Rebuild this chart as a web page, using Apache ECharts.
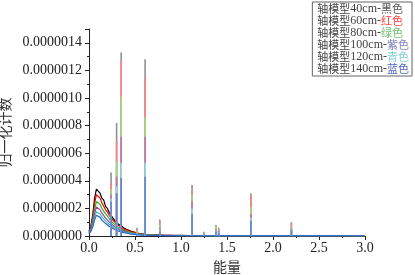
<!DOCTYPE html>
<html><head><meta charset="utf-8">
<script src="https://cdn.jsdelivr.net/npm/echarts@6/dist/echarts.min.js"></script>
<style>html,body{margin:0;padding:0;background:#fff}#c{width:415px;height:275px}</style>
</head><body><div id="c"></div>
<script>
// Units of values: 1e-7 (normalized counts)
const energies = [0.00,0.02,0.04,0.06,0.08,0.10,0.12,0.14,0.16,0.18,0.20,0.22,0.24,0.26,0.28,0.30,0.32,0.34,0.36,0.38,0.40,0.42,0.44,0.46,0.48,0.50,0.52,0.54,0.56,0.58,0.60,0.62,0.64,0.66,0.68,0.70,
  0.75,0.80,0.90,1.00,1.10,1.20,1.40,1.60,1.80,2.00,2.30,2.60,3.00];
const black40  = [0.35,0.7,1.5,2.7,3.4,3.3,3.1,2.75,2.6,2.15,2.0,1.7,1.6,1.3,1.2,0.95,1.0,0.78,0.8,0.58,0.6,0.44,0.46,0.34,0.36,0.27,0.28,0.2,0.22,0.15,0.17,0.12,0.13,0.1,0.11,0.08,
  0.08,0.06,0.05,0.04,0.03,0.03,0.02,0.02,0.01,0.01,0.01,0.005,0];
const red60    = [0.3,0.6,1.3,2.3,3.0,2.9,2.75,2.4,2.3,1.9,1.75,1.5,1.4,1.15,1.05,0.85,0.88,0.68,0.7,0.5,0.52,0.39,0.4,0.3,0.31,0.24,0.25,0.18,0.19,0.14,0.15,0.11,0.12,0.09,0.1,0.07,
  0.07,0.05,0.04,0.035,0.03,0.025,0.02,0.015,0.01,0.01,0.008,0.004,0];
const green80  = [0.25,0.5,1.1,1.9,2.5,2.4,2.3,2.0,1.9,1.6,1.45,1.25,1.15,0.95,0.87,0.7,0.73,0.56,0.58,0.42,0.44,0.32,0.34,0.25,0.26,0.2,0.21,0.15,0.16,0.12,0.13,0.09,0.1,0.075,0.08,0.06,
  0.055,0.045,0.035,0.03,0.025,0.02,0.015,0.012,0.008,0.008,0.006,0.003,0];
const purple100= [0.2,0.45,0.9,1.6,2.1,2.0,1.9,1.65,1.55,1.3,1.2,1.02,0.95,0.78,0.72,0.58,0.6,0.46,0.48,0.35,0.36,0.26,0.28,0.2,0.22,0.16,0.17,0.12,0.13,0.1,0.1,0.08,0.085,0.06,0.065,0.05,
  0.045,0.036,0.03,0.025,0.02,0.018,0.012,0.01,0.007,0.006,0.005,0.003,0];
const cyan120  = [0.18,0.4,0.75,1.35,1.75,1.7,1.6,1.38,1.3,1.08,1.0,0.85,0.8,0.65,0.6,0.48,0.5,0.38,0.4,0.29,0.3,0.22,0.23,0.17,0.18,0.13,0.14,0.1,0.11,0.08,0.085,0.065,0.07,0.05,0.055,0.042,
  0.04,0.03,0.025,0.02,0.017,0.015,0.01,0.008,0.006,0.005,0.004,0.002,0];
const blue140  = [0.15,0.33,0.65,1.15,1.5,1.42,1.35,1.15,1.1,0.9,0.84,0.71,0.67,0.55,0.5,0.4,0.42,0.32,0.34,0.24,0.25,0.18,0.19,0.14,0.15,0.11,0.12,0.085,0.09,0.065,0.07,0.055,0.058,0.042,0.046,0.035,
  0.034,0.025,0.021,0.017,0.014,0.012,0.008,0.007,0.005,0.004,0.003,0.002,0];

const peakEnergies = [0.24,0.30,0.35,0.52,0.61,0.77,1.12,1.25,1.38,1.41,1.76,2.20];
const peaksBlack  = [4.6,8.2,13.3,0.6,12.8,1.2,3.7,0.3,0.8,0.6,3.1,1.0];
const peaksRed    = [3.8,6.8,12.7,0.5,11.5,1.0,3.3,0.25,0.7,0.5,2.9,0.9];
const peaksGreen  = [3.4,5.4,10.1,0.4,8.6,0.8,3.0,0.2,0.7,0.45,2.1,0.7];
const peaksPurple = [3.0,4.3,7.2,0.3,7.2,0.6,2.5,0.15,0.5,0.4,1.6,0.55];
const peaksCyan   = [2.7,3.6,5.3,0.25,5.3,0.45,2.0,0.1,0.4,0.3,1.3,0.45];
const peaksBlue   = [2.5,3.1,4.2,0.2,4.3,0.35,1.6,0.1,0.35,0.25,1.1,0.4];

const modelPrefix = '轴模型';
const lengths = ['40cm-','60cm-','80cm-','100cm-','120cm-','140cm-'];
const colourNames = ['黑色','红色','绿色','紫色','青色','蓝色'];
const names = lengths.map((l, i) => modelPrefix + l + colourNames[i]);
const yTicks = ['0.0000000','0.0000002','0.0000004','0.0000006','0.0000008','0.0000010','0.0000012','0.0000014'];

const conts = [black40, red60, green80, purple100, cyan120, blue140];
const peaks = [peaksBlack, peaksRed, peaksGreen, peaksPurple, peaksCyan, peaksBlue];
const lineColors = ['#000000','#ff0000','#22bb22','#a040a0','#30c0c8','#3060c8'];
const peakColors = ['#909090','#ff8080','#99dd88','#c070b0','#90dde0','#6080d0'];
const legendColors = ['#555555','#ff4040','#70c070','#8080c0','#80d0d8','#5068c0'];
const SCALE = 1e-7;

const series = [];
conts.forEach((arr, i) => {
  series.push({
    name: names[i], type: 'line', symbol: 'none', z: 2 + i,
    lineStyle: { width: 1.2, color: lineColors[i] }, itemStyle: { color: lineColors[i] },
    data: energies.map((e, k) => [e, arr[k] * SCALE])
  });
});
peaks.forEach((arr, i) => {
  series.push({
    name: names[i] + ' 峰', type: 'bar', barWidth: 1.6, barGap: '-100%', z: 10 + i,
    itemStyle: { color: peakColors[i] },
    data: peakEnergies.map((e, k) => [e, arr[k] * SCALE])
  });
});

const CJK = 'Noto Sans CJK SC';
const rich = {
  p: { color: '#444', fontSize: 11, lineHeight: 12, fontFamily: CJK },
  n: { color: '#444', fontSize: 12, lineHeight: 12, fontFamily: 'Liberation Serif' }
};
legendColors.forEach((c, i) => { rich['c' + i] = { color: c, fontSize: 11, lineHeight: 12, fontFamily: CJK }; });

const chart = echarts.init(document.getElementById('c'), null, { renderer: 'canvas' });
chart.setOption({
  animation: false,
  backgroundColor: '#fff',
  grid: { left: 89, right: 50, top: 29, bottom: 39, containLabel: false, outerBoundsMode: 'none' },
  legend: {
    data: names, orient: 'vertical', right: 3, top: 2,
    itemWidth: 0, itemHeight: 0, itemGap: 0, icon: 'rect',
    padding: [1, 3, 1, 0],
    backgroundColor: '#fff', borderColor: '#666', borderWidth: 1,
    selectedMode: false,
    formatter: function (name) {
      const i = names.indexOf(name);
      return '{p|' + modelPrefix + '}{n|' + lengths[i] + '}{c' + i + '|' + colourNames[i] + '}';
    },
    textStyle: { rich: rich, lineHeight: 12 }
  },
  xAxis: {
    type: 'value', min: 0, max: 3, interval: 0.5,
    name: '能量', nameLocation: 'middle', nameGap: 22,
    nameTextStyle: { fontSize: 14, color: '#333', fontFamily: CJK },
    axisLine: { show: true, lineStyle: { color: '#222', width: 1 } },
    axisTick: { show: true, length: 4, inside: false, lineStyle: { color: '#222' } },
    minorTick: { show: true, splitNumber: 2, length: 2, lineStyle: { color: '#222' } },
    splitLine: { show: false },
    axisLabel: { margin: 5, fontSize: 14, color: '#222', fontFamily: 'Liberation Serif', formatter: v => v.toFixed(1) }
  },
  yAxis: {
    type: 'value', min: 0, max: 1.5e-6, interval: 2e-7,
    name: '归一化计数', nameLocation: 'middle', nameGap: 70, nameRotate: 90,
    nameTextStyle: { fontSize: 14, color: '#333', fontFamily: CJK },
    axisLine: { show: true, lineStyle: { color: '#222', width: 1 } },
    axisTick: { show: true, length: 4, inside: false, lineStyle: { color: '#222' } },
    minorTick: { show: true, splitNumber: 2, length: 2, lineStyle: { color: '#222' } },
    splitLine: { show: false },
    axisLabel: {
      margin: 7, fontSize: 14, color: '#222', fontFamily: 'Liberation Serif', showMaxLabel: false,
      formatter: v => { const k = Math.round(v / 2e-7); return yTicks[k] !== undefined ? yTicks[k] : ''; }
    }
  },
  series: series
});
</script></body></html>
